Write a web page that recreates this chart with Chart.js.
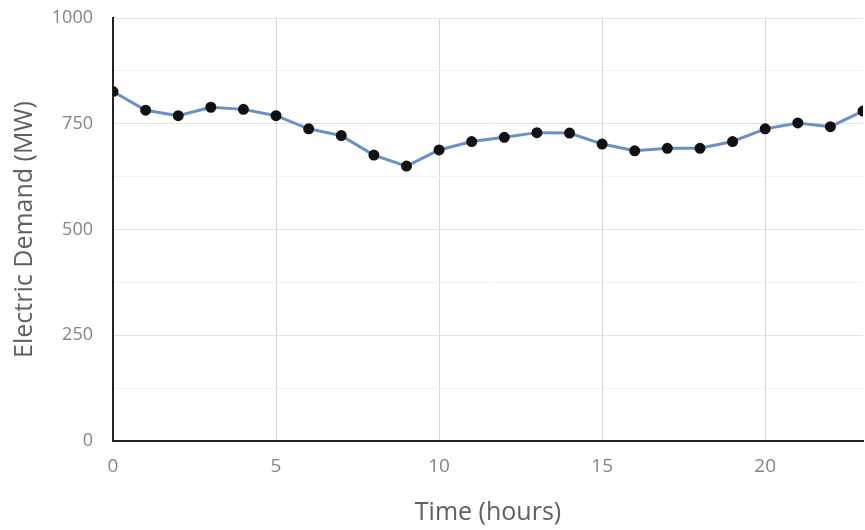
<!DOCTYPE html>
<html>
<head>
<meta charset="utf-8">
<script src="https://cdn.jsdelivr.net/npm/chart.js@4"></script>
<style>
  html, body { margin: 0; padding: 0; background: #fff; }
  #wrap { width: 865px; height: 530px; }
</style>
</head>
<body>
<div id="wrap"><canvas id="chart" width="865" height="530"></canvas></div>
<script>
// hourly demand
const hours = [0,1,2,3,4,5,6,7,8,9,10,11,12,13,14,15,16,17,18,19,20,21,22,23];
const demand = [826,782,769,789,784,769,738,722,676,650,688,708,718,729,728,702,686,692,692,708,738,752,743,780];
const xTicks = [0,5,10,15,20];
const yTicks = [0,125,250,375,500,625,750,875,1000];
const yLabels = [0,250,500,750,1000];

const chart = document.querySelector('#chart').getContext('2d');

new Chart(chart, {
    type: 'line',
    data: {
        datasets: [{
            label: 'Electric Demand',
            data: hours.map((h, i) => ({ x: h, y: demand[i] })),
            borderColor: '#6a90cc',
            borderWidth: 3,
            pointBackgroundColor: '#111',
            pointBorderColor: '#111',
            pointRadius: 4,
            tension: 0
        }]
    },
    options: {
        responsive: false,
        animation: false,
        layout: { padding: { top: 0, right: 2, bottom: 0, left: 0 }, autoPadding: false },
        plugins: { legend: { display: false }, tooltip: { enabled: false } },
        scales: {
            x: {
                type: 'linear',
                min: 0,
                max: 23,
                afterBuildTicks: s => { s.ticks = xTicks.map(v => ({ value: v })) },
                afterFit: s => { s.height = 89; s.paddingRight = 0; s.paddingLeft = 0 },
                grid: { color: '#d9d9d9', drawTicks: false },
                border: { color: '#222', width: 2 },
                ticks: { padding: 14, color: '#858585', font: { family: 'Open Sans', size: 19 } },
                title: {
                    display: true, text: 'Time (hours)', color: '#606060',
                    font: { family: 'Open Sans', size: 25 }, padding: { top: 2, bottom: 2 }
                }
            },
            y: {
                min: 0,
                max: 1000,
                afterBuildTicks: s => { s.ticks = yTicks.map(v => ({ value: v })) },
                afterFit: s => { s.width = 113; s.paddingTop = 18; s.paddingBottom = 0 },
                grid: {
                    drawTicks: false,
                    color: c => (c.tick && c.tick.value % 250 === 0) ? '#e3e3e3' : '#f1f1f1'
                },
                border: { color: '#222', width: 2 },
                ticks: {
                    padding: 20, color: '#858585', font: { family: 'Open Sans', size: 18 },
                    callback: v => yLabels.includes(v) ? v : ''
                },
                title: {
                    display: true, text: 'Electric Demand (MW)', color: '#606060',
                    font: { family: 'Open Sans', size: 25 }, padding: { top: 10, bottom: 0 }
                }
            }
        }
    }
});
</script>
</body>
</html>
